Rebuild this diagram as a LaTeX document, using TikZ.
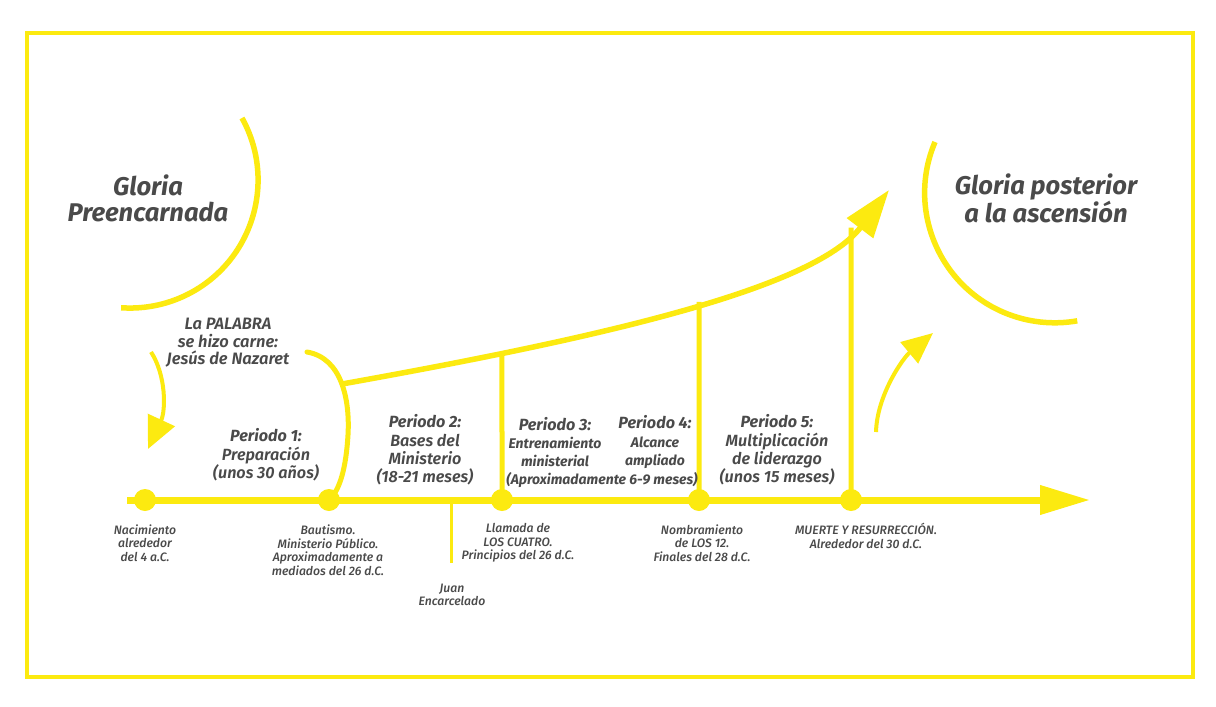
\documentclass[tikz,border=0pt]{standalone}
\usepackage{fontspec}
\setmainfont{Fira Sans}
\newfontfamily\fmed{Fira Sans Medium Italic}
\newfontfamily\fsemi{Fira Sans SemiBold Italic}
\newfontfamily\fbold{Fira Sans Bold Italic}
\usetikzlibrary{arrows.meta,intersections}
\definecolor{ylw}{RGB}{252,234,16}
\definecolor{txt}{RGB}{74,74,74}
\newcommand\sbsmall{\fbold\fontsize{14}{18}\selectfont}
\begin{document}
\begin{tikzpicture}[x=1pt,y=-1pt,
  ln/.style={draw=ylw,line width=#1,line cap=butt},
  ln/.default=5.5pt,
  dotnode/.style={circle,fill=ylw,minimum size=22pt,inner sep=0pt},
  lbl/.style={text=txt,align=center,inner sep=0pt,font=\fmed\fontsize{12.2}{13.5}\selectfont},
  per/.style={text=txt,align=center,inner sep=0pt,font=\fsemi\fontsize{16.2}{18.3}\selectfont},
  glory/.style={text=txt,align=center,inner sep=0pt,font=\fbold\fontsize{25.6}{26}\selectfont},
  word/.style={text=txt,align=center,inner sep=0pt,font=\fsemi\fontsize{16.5}{17.5}\selectfont}]
\useasboundingbox (0,0) rectangle (1216,707);
\fill[white] (0,0) rectangle (1216,707);
% frame
\draw[draw=ylw,line width=3.5pt] (27,33) rectangle (1193,677);

% glory arcs
\draw[ln=5.5pt] (242,118) arc[start angle=-29,end angle=94,radius=128];
\draw[ln=5.5pt] (935,142) arc[start angle=-157,end angle=-280,radius=130];

% timeline
\coordinate (tl0) at (127,500);
\coordinate (tlend) at (1090,500);
\draw[ln=7pt,-{Triangle[length=50pt,width=28pt]}] (tl0) -- (tlend);

\node[dotnode] (d1) at (145,500) {};
\node[dotnode] (d2) at (329,500) {};
\node[dotnode] (d3) at (502,500) {};
\node[dotnode] (d4) at (699,500) {};
\node[dotnode] (d5) at (851,500) {};

% Juan line
\coordinate (juan0) at (451,500);
\coordinate (juan1) at (451,563);
\draw[ln=3pt] (juan0) -- (juan1);

% bracket (La Palabra se hizo carne)
\coordinate (br0) at (307,352);
\coordinate (brm) at (348,435);
\draw[ln=5pt,line cap=round] (br0) .. controls (342,358) and (350,400) .. (brm)
   .. controls (346,468) and (340,490) .. (d2.center);

% growth curve
\coordinate (cstart) at (342,384);
\coordinate (ctip) at (889,190);
\path[name path=curve] (cstart) .. controls (593,339) and (813,290) .. (ctip);
\draw[ln=5.5pt,-{Triangle[length=48pt,width=32pt]}] (cstart) .. controls (593,339) and (813,290) .. (ctip);

\foreach \d in {d3,d4,d5}{
  \path[name path=v\d] (\d.center) -- ++(0,-400);
  \path[name intersections={of=curve and v\d,by={t\d}}];
  \draw[ln=5pt] (\d.center) -- (t\d);
}

% small arrows
\coordinate (la0) at (151,352);
\coordinate (la1) at (148,449);
\draw[ln=4pt,-{Triangle[length=32pt,width=29pt]}] (la0) .. controls (166,375) and (166,410) .. (la1);
\coordinate (ra0) at (876,432);
\coordinate (ra1) at (933,333);
\draw[ln=4pt,-{Triangle[length=31pt,width=27pt]}] (ra0) .. controls (877,395) and (903,358) .. (ra1);

% texts
\node[glory] (g1) at (148,198) {Gloria\\Preencarnada};
\node[glory] (g2) at (1046,198) {Gloria posterior\\a la ascensión};
\node[word] (palabra) at (228,343) {La PALABRA\\se hizo carne:\\Jesús de Nazaret};

\node[per] (p1) at (266,455) {{\fbold Periodo 1:}\\Preparación\\(unos 30 años)};
\node[per] (p2) at (425,450) {{\fbold Periodo 2:}\\Bases del\\Ministerio\\(18-21 meses)};
\node[per] (p3) at (555,442) {{\fbold Periodo 3:}\\{\sbsmall Entrenamiento}\\{\sbsmall ministerial}};
\node[per] (p4) at (655,442) {{\fbold Periodo 4:}\\{\sbsmall Alcance}\\{\sbsmall ampliado}};
\node[text=txt,inner sep=0pt,font=\sbsmall] (p34) at (602,480) {(Aproximadamente 6-9 meses)};
\node[per] (p5) at (777,450) {{\fbold Periodo 5:}\\Multiplicación\\de liderazgo\\(unos 15 meses)};

\node[lbl] (l1) at (145,543) {Nacimiento\\alrededor\\del 4 a.C.};
\node[lbl] (l2) at (328,550) {Bautismo.\\Ministerio Público.\\Aproximadamente a\\mediados del 26 d.C.};
\node[lbl] (l3) at (452,595) {Juan\\Encarcelado};
\node[lbl] (l4) at (518,543) {Llamada de\\LOS CUATRO.\\Principios del 26 d.C.};
\node[lbl] (l5) at (702,543) {Nombramiento\\de LOS 12.\\Finales del 28 d.C.};
\node[lbl] (l6) at (866,536) {MUERTE Y RESURRECCIÓN.\\Alrededor del 30 d.C.};
\end{tikzpicture}
\end{document}
